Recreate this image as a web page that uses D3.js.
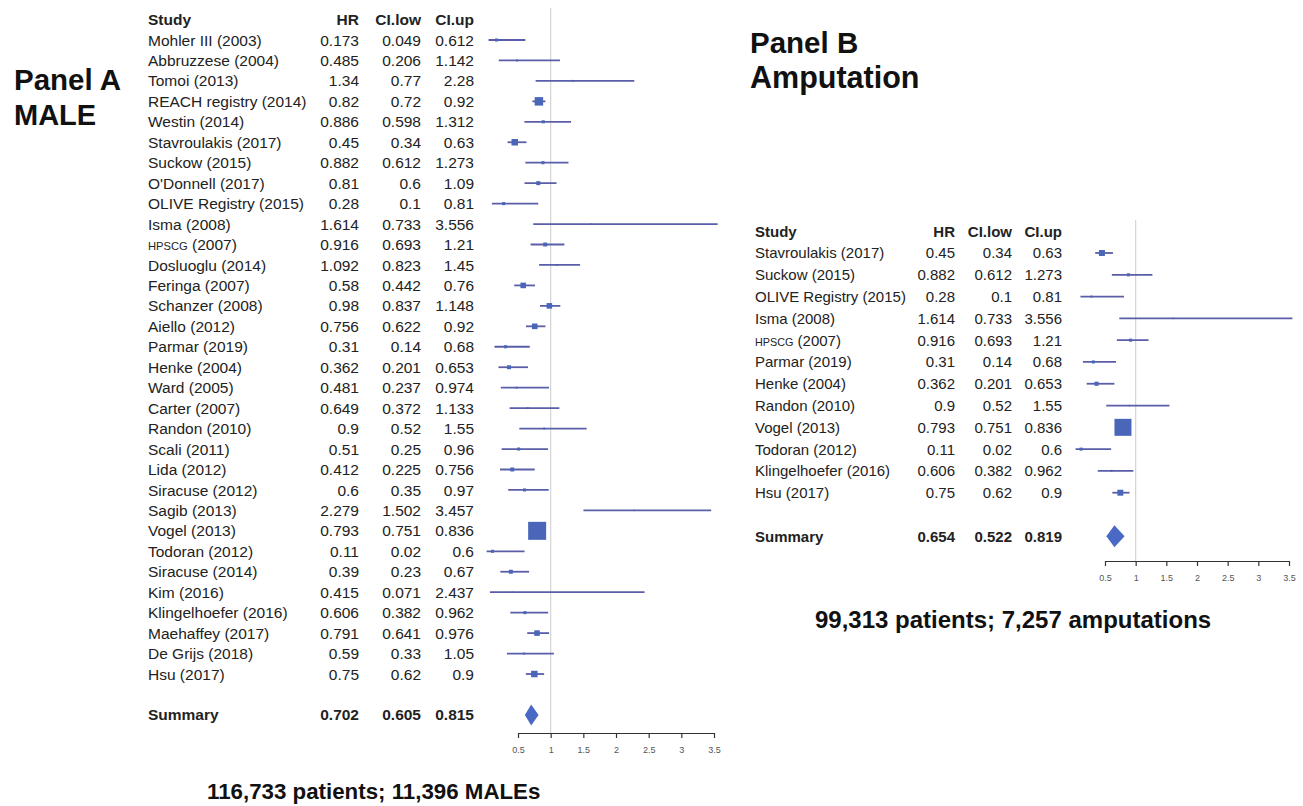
<!DOCTYPE html>
<html>
<head>
<meta charset="utf-8">
<script src="https://cdn.jsdelivr.net/npm/d3@7/dist/d3.min.js"></script>
<style>
  html, body { margin: 0; padding: 0; background: #fff; }
  svg { display: block; font-family: "Liberation Sans", Arial, Helvetica, sans-serif; }
</style>
</head>
<body>
<svg id="chart" width="1303" height="806"></svg>
<script>
// ---------------- DATA ----------------
const studiesA = ["Mohler III (2003)","Abbruzzese (2004)","Tomoi (2013)","REACH registry (2014)","Westin (2014)",
  "Stavroulakis (2017)","Suckow (2015)","O'Donnell (2017)","OLIVE Registry (2015)","Isma (2008)","HPSCG (2007)",
  "Dosluoglu (2014)","Feringa (2007)","Schanzer (2008)","Aiello (2012)","Parmar (2019)","Henke (2004)","Ward (2005)",
  "Carter (2007)","Randon (2010)","Scali (2011)","Lida (2012)","Siracuse (2012)","Sagib (2013)","Vogel (2013)",
  "Todoran (2012)","Siracuse (2014)","Kim (2016)","Klingelhoefer (2016)","Maehaffey (2017)","De Grijs (2018)","Hsu (2017)"];
const hrA  = [0.173,0.485,1.34,0.82,0.886,0.45,0.882,0.81,0.28,1.614,0.916,1.092,0.58,0.98,0.756,0.31,0.362,0.481,0.649,0.9,0.51,0.412,0.6,2.279,0.793,0.11,0.39,0.415,0.606,0.791,0.59,0.75];
const lowA = [0.049,0.206,0.77,0.72,0.598,0.34,0.612,0.6,0.1,0.733,0.693,0.823,0.442,0.837,0.622,0.14,0.201,0.237,0.372,0.52,0.25,0.225,0.35,1.502,0.751,0.02,0.23,0.071,0.382,0.641,0.33,0.62];
const upA  = [0.612,1.142,2.28,0.92,1.312,0.63,1.273,1.09,0.81,3.556,1.21,1.45,0.76,1.148,0.92,0.68,0.653,0.974,1.133,1.55,0.96,0.756,0.97,3.457,0.836,0.6,0.67,2.437,0.962,0.976,1.05,0.9];
// relative study weights (box size)
const weightA = [0.17,0.11,0.11,0.47,0.17,0.36,0.17,0.22,0.17,0.08,0.22,0.11,0.31,0.31,0.31,0.17,0.22,0.11,0.11,0.11,0.17,0.22,0.17,0.08,1,0.17,0.22,0.08,0.17,0.31,0.11,0.36];
const summaryA = {hr: 0.702, low: 0.605, up: 0.815};

const studiesB = ["Stavroulakis (2017)","Suckow (2015)","OLIVE Registry (2015)","Isma (2008)","HPSCG (2007)","Parmar (2019)",
  "Henke (2004)","Randon (2010)","Vogel (2013)","Todoran (2012)","Klingelhoefer (2016)","Hsu (2017)"];
const hrB  = [0.45,0.882,0.28,1.614,0.916,0.31,0.362,0.9,0.793,0.11,0.606,0.75];
const lowB = [0.34,0.612,0.1,0.733,0.693,0.14,0.201,0.52,0.751,0.02,0.382,0.62];
const upB  = [0.63,1.273,0.81,3.556,1.21,0.68,0.653,1.55,0.836,0.6,0.962,0.9];
const weightB = [0.35,0.18,0.12,0.09,0.18,0.18,0.24,0.09,1,0.18,0.12,0.35];
const summaryB = {hr: 0.654, low: 0.522, up: 0.819};

const headers = ["Study","HR","CI.low","CI.up"];
const tickVals = [0.5,1,1.5,2,2.5,3,3.5];
const footA = "116,733 patients; 11,396 MALEs";
const footB = "99,313 patients; 7,257 amputations";

// ---------------- DRAW ----------------
const svg = d3.select("#chart");
const TXT = "#222";
const LINE = "#5a5ea8";
const BOX = "#4a66b8";
const DIAM = "#4a69c4";

function label(g, name, x, y, fs) {
  const t = g.append("text").attr("x", x).attr("y", y + fs * 0.36).attr("fill", TXT).attr("font-size", fs);
  if (name.startsWith("HPSCG")) {
    t.append("tspan").attr("font-size", fs * 0.72).text("HPSCG");
    t.append("tspan").text(name.slice(5));
  } else t.text(name);
}

function panel(cfg) {
  const g = svg.append("g");
  const x = d3.scaleLinear().domain([0.5, 3.5]).range(cfg.xr);
  const y = d3.scaleLinear().domain([0, cfg.studies.length - 1]).range(cfg.yr);
  const box = d3.scaleLinear().domain([0, 1]).range([0, cfg.maxBox]);
  const fs = cfg.fs;
  const n = cfg.studies.length;

  // header
  const hy = y(-1) + fs * 0.36;
  g.append("text").attr("x", cfg.colX[0]).attr("y", hy).attr("font-weight", "bold").attr("font-size", fs).attr("fill", TXT).text(headers[0]);
  [1,2,3].forEach(i => g.append("text").attr("x", cfg.colX[i]).attr("y", hy).attr("text-anchor", "end")
      .attr("font-weight", "bold").attr("font-size", fs).attr("fill", TXT).text(headers[i]));

  // rows
  cfg.studies.forEach((s, i) => {
    const yy = y(i);
    label(g, s, cfg.colX[0], yy, fs);
    [cfg.hr[i], cfg.low[i], cfg.up[i]].forEach((v, k) =>
      g.append("text").attr("x", cfg.colX[k + 1]).attr("y", yy + fs * 0.36).attr("text-anchor", "end")
        .attr("font-size", fs).attr("fill", TXT).text(String(v)));
  });
  // summary row
  const sy = y(n + 1);
  g.append("text").attr("x", cfg.colX[0]).attr("y", sy + fs * 0.36).attr("font-weight", "bold").attr("font-size", fs).attr("fill", TXT).text("Summary");
  [cfg.sum.hr, cfg.sum.low, cfg.sum.up].forEach((v, k) =>
    g.append("text").attr("x", cfg.colX[k + 1]).attr("y", sy + fs * 0.36).attr("text-anchor", "end")
      .attr("font-weight", "bold").attr("font-size", fs).attr("fill", TXT).text(String(v)));

  // reference line at 1
  g.append("line").attr("x1", x(1)).attr("x2", x(1)).attr("y1", cfg.refTop).attr("y2", cfg.axisY)
    .attr("stroke", "#d4d4d4").attr("stroke-width", 1.2);

  // CI lines & boxes
  cfg.studies.forEach((s, i) => {
    const yy = y(i);
    g.append("line").attr("x1", x(cfg.low[i])).attr("x2", x(cfg.up[i])).attr("y1", yy).attr("y2", yy)
      .attr("stroke", LINE).attr("stroke-width", 1.8);
    const b = box(cfg.w[i]);
    g.append("rect").attr("x", x(cfg.hr[i]) - b / 2).attr("y", yy - b / 2).attr("width", b).attr("height", b)
      .attr("fill", BOX);
  });
  // summary diamond
  const dh = cfg.diamH / 2;
  g.append("path").attr("d", `M${x(cfg.sum.low)},${sy} L${x(cfg.sum.hr)},${sy - dh} L${x(cfg.sum.up)},${sy} L${x(cfg.sum.hr)},${sy + dh} Z`)
    .attr("fill", DIAM);

  // axis
  const ax = g.append("g").attr("transform", `translate(0,${cfg.axisY})`)
    .call(d3.axisBottom(x).tickValues(tickVals).tickFormat(d => String(d)).tickSize(5).tickSizeOuter(0).tickPadding(9));
  ax.select(".domain").attr("stroke", "#333").attr("stroke-width", 1.2);
  ax.selectAll(".tick line").attr("stroke", "#333").attr("stroke-width", 1.2);
  ax.selectAll(".tick text").attr("font-size", 9).attr("fill", "#555").attr("font-family", "Liberation Sans, Arial, sans-serif");
}

panel({
  studies: studiesA, hr: hrA, low: lowA, up: upA, w: weightA, sum: summaryA,
  xr: [518, 714], yr: [40, 674], colX: [148, 359, 421, 474], fs: 15.5,
  maxBox: 18, diamH: 21, refTop: 8, axisY: 733
});
panel({
  studies: studiesB, hr: hrB, low: lowB, up: upB, w: weightB, sum: summaryB,
  xr: [1105, 1289], yr: [253, 492.7], colX: [755, 955, 1012, 1062], fs: 15,
  maxBox: 17, diamH: 22, refTop: 220, axisY: 561
});

// titles
function title(x, y, s, fs) {
  svg.append("text").attr("x", x).attr("y", y).attr("font-weight", "bold").attr("font-size", fs).attr("fill", "#111").text(s);
}
title(14, 90, "Panel A", 29.5);
title(14, 125, "MALE", 29);
title(750, 53, "Panel B", 29.5);
title(750, 88, "Amputation", 30.5);

svg.append("text").attr("x", 207).attr("y", 799).attr("font-weight", "bold").attr("font-size", 22.3).attr("fill", "#111").text(footA);
svg.append("text").attr("x", 815).attr("y", 628).attr("font-weight", "bold").attr("font-size", 24).attr("fill", "#111").text(footB);
</script>
</body>
</html>
